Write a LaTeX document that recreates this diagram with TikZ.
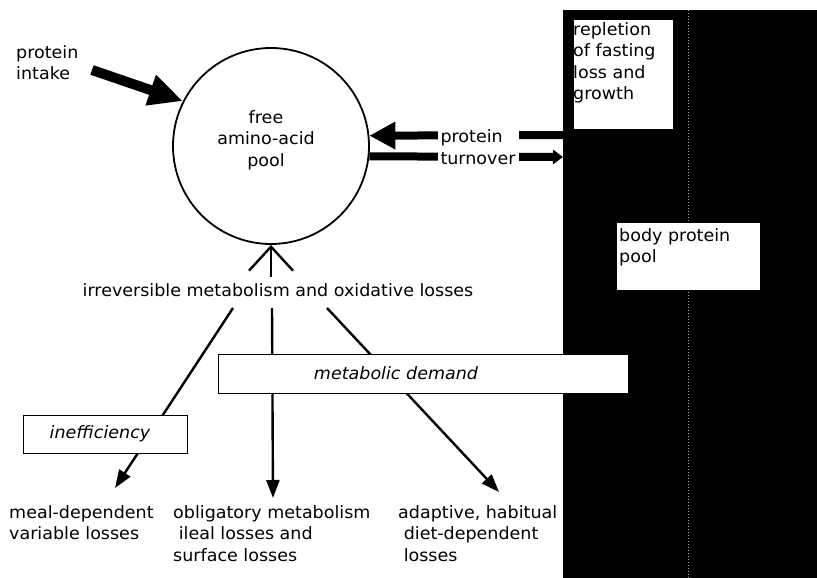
\documentclass[tikz,border=0pt]{standalone}
\usepackage{fontspec}
\setmainfont{DejaVu Sans}[FakeStretch=1.03]
\usetikzlibrary{arrows.meta,positioning}

\begin{document}
\begin{tikzpicture}[x=1pt,y=-1pt,
    every node/.style={
        font=\fontsize{17}{21.5}\selectfont,
        inner sep=0pt,
        align=left
    },
    textbox/.style={draw, fill=white, line width=1.4pt},
    flow/.style={line width=2.4pt, -{Triangle[length=18pt,width=13pt]}},
    turn/.style={line width=8pt, -{Triangle[length=26pt,width=26pt]}}
]
\useasboundingbox (0,0) rectangle (817,578);

% Body protein side
\node[fill=black, minimum width=254pt, minimum height=568pt, anchor=north west] (body) at (563,10) {};
\draw[gray!70, dotted, line width=1pt] (688,10) -- (688,578);
\node[textbox, draw=none, minimum width=99pt, minimum height=109pt, anchor=north west] (repl) at (573,19) {};
\node[anchor=north west] at (573,22) {repletion\\of fasting\\loss and\\growth};
\node[textbox, draw=none, minimum width=143pt, minimum height=67pt, anchor=north west] (bpp) at (616,222) {};
\node[anchor=north west] at (619,228) {body protein\\pool};

% Pool
\node[circle, draw, line width=1.8pt, minimum size=196pt] (pool) at (271,146) {};
\node[align=center] (label) at (266,140) {free\\amino-acid\\pool};

% Intake
\node[anchor=north west] (intake) at (16,45) {protein\\intake};
\coordinate (in) at (92,70);
\draw[line width=10pt, -{Triangle[length=34pt,width=30pt]}] (in) -- (pool.153);

% Turnover
\draw[turn] (body.west |- 0,135) -- (pool.6);
\draw[turn, -{Triangle[length=10pt,width=14pt]}] (pool.-6) -- (body.west |- 0,157);
\node[fill=white, inner xsep=3pt, inner ysep=4pt] (turnover) at (478,147) {protein\\turnover};

% Losses
\node (irr) at (278,290) {irreversible metabolism and oxidative losses};
\draw[line width=2.4pt, -{Straight Barb[length=24pt,width=44pt,line width=2.4pt]}] (pool.south |- irr.north) ++(0,-6) -- (pool.south);

\coordinate (s1) at (233,308);
\coordinate (s2) at (272,308);
\coordinate (s3) at (327,308);
\coordinate (e1) at (115,488);
\coordinate (e2) at (273,498);
\coordinate (e3) at (499,492);
\draw[flow] (s1) -- (e1);
\draw[flow] (s2) -- (e2);
\draw[flow] (s3) -- (e3);

\node[textbox, minimum width=410pt, minimum height=39pt, anchor=north west] (demand) at (218,354) {};
\node at (396,373) {\itshape metabolic demand};
\node[textbox, minimum width=164pt, minimum height=38pt, anchor=north west] (ineff) at (23,415) {};
\node at (100,434) {\itshape inefficiency};

\node[anchor=north west] (meal) at (9,505) {meal-dependent\\variable losses};
\node[anchor=north west] (oblig) at (173,505) {obligatory metabolism\\\ ileal losses and\\surface losses};
\node[anchor=north west] (adapt) at (398,505) {adaptive, habitual\\\ diet-dependent\\\ losses};

\end{tikzpicture}
\end{document}
